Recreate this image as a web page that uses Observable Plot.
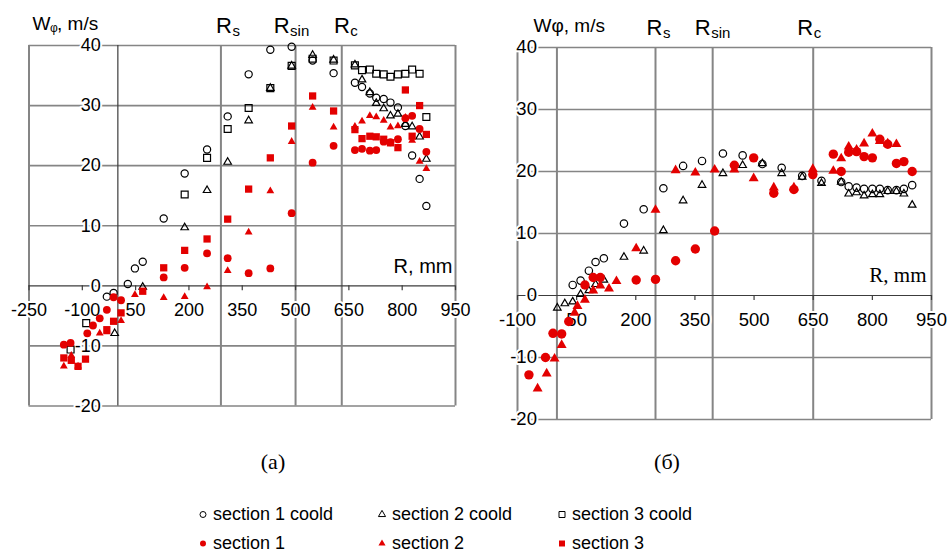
<!DOCTYPE html>
<html><head><meta charset="utf-8">
<script src="https://cdn.jsdelivr.net/npm/d3@7"></script>
<script src="https://cdn.jsdelivr.net/npm/@observablehq/plot@0.6"></script>
<style>
body{margin:0;background:#fff;}
#wrap{position:relative;width:948px;height:552px;font-family:"Liberation Sans",Arial,sans-serif;overflow:hidden;background:#fff;}
.panel{position:absolute;top:0;width:474px;}
.cap{position:absolute;font-family:"Liberation Serif","Times New Roman",serif;font-size:22px;transform:translate(-50%,-50%);}
.leg{position:absolute;font-size:18px;display:flex;align-items:center;white-space:nowrap;transform:translateY(-50%);color:#000;}
.leg svg{margin-right:5px;overflow:visible;}
</style></head><body>
<div id="wrap">
<div id="left" class="panel" style="left:0"></div>
<div id="right" class="panel" style="left:474px"></div>
<div class="cap" style="left:273px;top:462px">(a)</div>
<div class="cap" style="left:667px;top:462px">(б)</div>
<div id="legend"></div>
</div>
<script>
// ---------- DATA ----------
const seriesNames = ["section 1 coold", "section 2 coold", "section 3 coold", "section 1", "section 2", "section 3"];
const yTicks = [-20, -10, 0, 10, 20, 30, 40];
const leftXTicks = [-250, -100, 50, 200, 350, 500, 650, 800, 950];
const rightXTicks = [-100, 50, 200, 350, 500, 650, 800, 950];
const refSubs = ["s", "sin", "c"];
const leftRefs = [290, 500, 630];   // R_s, R_sin, R_c, mm (panel a)
const rightRefs = [250, 395, 650];  // R_s, R_sin, R_c, mm (panel б)

// panel (a)
const a_s1cool = [[-31,-1.8],[-12,-1.2],[28,0.3],[48,2.9],[70,4.0],[129,11.2],[188,18.7],[251,22.7],[309,28.2],[368,35.2],[429,39.3],[489,39.8],[548,37.5],[607,35.4],[667,33.8],[687,33.1],[709,32.0],[727,31.3],[748,31.1],[767,30.5],[788,29.7],[809,26.6],[828,21.7],[849,17.8],[868,13.3]];
const a_s2cool = [[-9,-7.9],[70,-0.2],[188,9.7],[251,15.9],[309,20.6],[368,27.5],[429,32.9],[489,36.6],[548,38.4],[607,37.6],[667,36.8],[687,34.3],[709,32.2],[727,30.4],[748,29.5],[767,28.3],[788,28.6],[809,26.9],[828,26.5],[849,24.8],[868,21.1]];
const a_s3cool = [[-133,-10.6],[-89,-6.2],[188,15.2],[251,21.3],[309,26.1],[368,29.6],[429,32.9],[489,36.6],[548,37.8],[607,37.5],[667,36.7],[687,35.9],[709,36.0],[727,35.3],[748,35.2],[767,34.8],[788,35.2],[809,35.3],[828,36.0],[849,35.3],[868,28.1]];
const a_s1 = [[-152,-9.8],[-133,-9.5],[-86,-7.9],[-70,-6.6],[-51,-5.4],[-31,-4.0],[-12,-1.9],[9,-2.4],[129,1.4],[188,3.0],[251,5.4],[309,4.6],[368,2.1],[429,2.9],[489,12.1],[548,20.5],[607,23.3],[667,22.6],[687,22.8],[709,22.5],[727,22.6],[748,24.0],[767,23.9],[788,24.4],[809,27.9],[828,28.3],[849,26.1],[868,22.3]];
const a_s2 = [[-152,-13.4],[-131,-11.6],[-112,-13.4],[-51,-7.9],[-31,-7.7],[9,-5.8],[48,-1.5],[129,-2.0],[188,-1.8],[251,-0.2],[309,2.5],[368,8.9],[429,15.8],[489,24.0],[548,29.7],[607,26.4],[667,26.5],[687,27.4],[709,28.3],[727,28.1],[748,27.5],[767,26.4],[788,26.6],[809,28.0],[828,24.2],[849,20.7],[868,19.5]];
const a_s3 = [[-152,-12.0],[-131,-12.4],[-112,-13.4],[-91,-12.2],[-31,-7.3],[-12,-5.9],[9,-4.5],[70,-0.9],[129,3.0],[188,5.9],[251,7.8],[309,11.1],[368,16.1],[429,21.3],[489,26.6],[548,31.6],[607,29.1],[667,26.0],[687,24.5],[709,24.9],[727,24.8],[748,24.4],[767,23.8],[788,23.0],[809,32.6],[828,24.9],[849,30.0],[868,25.2]];

// panel (б)
const b_s1cool = [[40,1.7],[60,2.4],[81,4.0],[98,5.4],[119,6.0],[170,11.6],[220,13.9],[270,17.3],[320,20.9],[368,21.7],[421,22.9],[471,22.6],[521,21.2],[570,20.6],[622,19.3],[671,18.5],[721,18.3],[740,17.6],[760,17.4],[779,17.2],[800,17.2],[819,17.2],[839,17.0],[861,17.0],[880,17.2],[901,17.8]];
const b_s2cool = [[1,-2.0],[20,-1.3],[40,-1.0],[60,0.2],[81,0.8],[98,1.8],[119,2.5],[170,6.2],[220,7.2],[270,10.5],[320,15.3],[368,17.8],[421,19.7],[471,21.0],[521,21.3],[570,19.7],[622,19.1],[671,18.1],[721,18.3],[740,16.4],[760,16.6],[779,16.1],[800,16.3],[819,16.3],[839,16.8],[861,16.8],[880,16.4],[901,14.6]];
const b_s1 = [[-71,-12.8],[-29,-10.0],[-10,-6.1],[12,-6.2],[30,-4.2],[71,1.7],[92,2.9],[110,2.9],[201,2.5],[250,2.6],[301,5.6],[351,7.5],[400,10.4],[450,21.0],[499,22.2],[550,16.5],[601,17.1],[649,19.5],[701,22.8],[721,20.0],[740,23.1],[760,23.2],[779,22.4],[800,22.2],[819,25.2],[839,24.4],[861,21.3],[880,21.6],[901,20.0]];
const b_s2 = [[-49,-15.0],[-26,-12.6],[-6,-10.2],[12,-8.0],[45,-2.8],[52,-1.7],[71,-0.7],[92,0.8],[110,1.6],[132,1.1],[151,2.3],[201,7.6],[250,13.8],[301,20.2],[351,19.8],[400,20.3],[450,20.3],[499,18.9],[550,17.4],[601,17.4],[649,20.4],[701,20.1],[721,22.1],[740,24.0],[760,23.5],[779,24.5],[800,26.1],[819,24.9],[839,24.5],[861,24.4]];

// ---------- STYLE ----------
const GRID = "#858585", AXIS = "#3c3c3c", RED = "#e30000";
const symbols = ["circle", "triangle", "square", "circle", "triangle", "square"];
const halo = {fill: "black", stroke: "white", strokeWidth: 4, paintOrder: "stroke", fontSize: 18};

function dots(data, i, r) {
  const open = i < 3;
  return Plot.dot(data, {x: d => d[0], y: d => d[1], symbol: symbols[i], r,
    fill: open ? "none" : RED, stroke: open ? "black" : null, strokeWidth: open ? 1.2 : 0});
}

function refLabels(refs, dxs, dy) {
  return refs.flatMap((v, i) => [
    Plot.text([v], {x: d => d, y: 40, text: () => "R", textAnchor: "end", dx: dxs[i], dy: dy, fontSize: 22, fill: "black"}),
    Plot.text([v], {x: d => d, y: 40, text: () => refSubs[i], textAnchor: "start", dx: dxs[i] + 0.5, dy: dy + 6, fontSize: 15, fill: "black"})
  ]);
}

// ---------- PANEL (a) ----------
const left = Plot.plot({
  width: 474, height: 440,
  marginLeft: 28.5, marginRight: 19, marginTop: 45, marginBottom: 34.5,
  x: {domain: [-250, 950], axis: null},
  y: {domain: [-20, 40], axis: null},
  style: {fontFamily: "'Liberation Sans', Arial, sans-serif", background: "white"},
  marks: [
    Plot.ruleY(yTicks.filter(d => d !== 0), {stroke: GRID, strokeWidth: 1.6}),
    Plot.ruleX([-250, ...leftRefs, 950], {stroke: GRID, strokeWidth: 2}),
    Plot.ruleY([0], {stroke: AXIS, strokeWidth: 1.2}),
    Plot.ruleX([0], {stroke: AXIS, strokeWidth: 1.2}),
    Plot.ruleX(leftXTicks, {x: d => d, y1: 0, y2: -0.8, stroke: AXIS, strokeWidth: 1.2}),
    Plot.text(leftXTicks, {x: d => d, y: 0, dy: 24, text: d => String(d), ...halo}),
    Plot.text(yTicks, {x: 0, y: d => d, dx: -17, textAnchor: "end", text: d => String(d), ...halo}),
    dots(a_s1cool, 0, 3.6), dots(a_s2cool, 1, 2.8), dots(a_s3cool, 2, 3.9),
    dots(a_s1, 3, 3.9), dots(a_s2, 4, 2.9), dots(a_s3, 5, 4.1),
    Plot.text(["W"], {x: -250, y: 40, text: d => d, textAnchor: "start", dx: 3.5, dy: -22, fontSize: 19, fill: "black"}),
    Plot.text(["φ"], {x: -250, y: 40, text: d => d, textAnchor: "start", dx: 21, dy: -17, fontSize: 12, fill: "black"}),
    Plot.text([", m/s"], {x: -250, y: 40, text: d => d, textAnchor: "start", dx: 28, dy: -22, fontSize: 19, fill: "black"}),
    ...refLabels(leftRefs, [11, -6, 8], -20),
    Plot.text(["R, mm"], {x: 950, y: 0, text: d => d, textAnchor: "end", dx: -3, dy: -19, fontSize: 20, fill: "black"})
  ]
});
document.getElementById("left").appendChild(left);

// ---------- PANEL (б) ----------
const right = Plot.plot({
  width: 474, height: 440,
  marginLeft: 43, marginRight: 17, marginTop: 47, marginBottom: 21,
  x: {domain: [-100, 950], axis: null},
  y: {domain: [-20, 40], axis: null},
  style: {fontFamily: "'Liberation Sans', Arial, sans-serif", background: "white"},
  marks: [
    Plot.ruleY(yTicks.filter(d => d !== 0), {stroke: GRID, strokeWidth: 1.6}),
    Plot.ruleX([-100, 0, ...rightRefs, 950], {stroke: GRID, strokeWidth: 2}),
    Plot.ruleY([0], {stroke: AXIS, strokeWidth: 1.2}),
    Plot.ruleX(rightXTicks, {x: d => d, y1: 0, y2: -0.8, stroke: AXIS, strokeWidth: 1.2}),
    Plot.text(rightXTicks, {x: d => d, y: 0, dy: 25, text: d => String(d), ...halo, fontSize: 18.5}),
    Plot.text(yTicks, {x: 0, y: d => d, dx: -20, textAnchor: "end", text: d => String(d), ...halo, fontSize: 18.5}),
    dots(b_s1cool, 0, 3.7), dots(b_s2cool, 1, 2.8),
    dots(b_s1, 3, 4.7), dots(b_s2, 4, 3.7),
    Plot.text(["Wφ, m/s"], {x: -100, y: 40, text: d => d, textAnchor: "start", dx: 16, dy: -22, fontSize: 19, fill: "black"}),
    ...refLabels(rightRefs, [7, -2, 0], -20),
    Plot.text(["R, mm"], {x: 950, y: 0, text: d => d, textAnchor: "end", dx: -5, dy: -20, fontSize: 21, fill: "black", fontFamily: "'Liberation Serif', 'Times New Roman', serif"})
  ]
});
document.getElementById("right").appendChild(right);

// ---------- LEGEND ----------
const legendCols = [203, 382, 562], legendRows = [514, 543];
const symMap = {circle: d3.symbolCircle, triangle: d3.symbolTriangle, square: d3.symbolSquare};
const legSize = {circle: 28, triangle: 22, square: 36};
const legend = document.getElementById("legend");
seriesNames.forEach((name, i) => {
  const open = i < 3;
  const div = document.createElement("div");
  div.className = "leg";
  div.style.left = (legendCols[i % 3] - 5) + "px";
  div.style.top = legendRows[Math.floor(i / 3)] + "px";
  const path = d3.symbol(symMap[symbols[i]], legSize[symbols[i]])();
  div.innerHTML = `<svg width="10" height="10" viewBox="-5 -5 10 10"><path d="${path}" fill="${open ? "none" : RED}" stroke="${open ? "black" : "none"}" stroke-width="1"/></svg><span>${name}</span>`;
  legend.appendChild(div);
});
</script>
</body></html>
